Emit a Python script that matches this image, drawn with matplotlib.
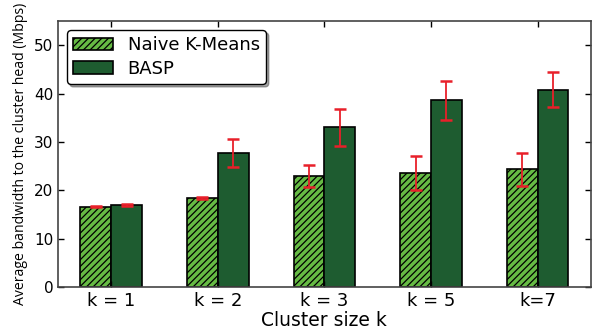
import numpy as np
import matplotlib
matplotlib.use('Agg')
import matplotlib.pyplot as plt

plt.rcParams['hatch.linewidth'] = 0.9

clusters = ['k = 1', 'k = 2', 'k = 3', 'k = 5', 'k=7']
naive = [16.6, 18.4, 23.0, 23.5, 24.3]
naive_err = [0.15, 0.15, 2.25, 3.5, 3.5]
basp = [17.0, 27.7, 33.0, 38.6, 40.8]
basp_err = [0.15, 2.8, 3.8, 4.0, 3.6]

x = np.arange(len(clusters))
w = 0.29

fig = plt.figure(figsize=(5.98, 3.33), dpi=100)
ax = fig.add_axes([0.097, 0.138, 0.891, 0.799])

ax.bar(x - w/2, naive, w, color='#66bb44', edgecolor='black', hatch='/////',
       linewidth=1.2, label='Naive K-Means',
       yerr=naive_err, error_kw=dict(ecolor='#e8202a', elinewidth=1.3, capsize=4, capthick=1.8))
ax.bar(x + w/2, basp, w, color='#1e5c30', edgecolor='black',
       linewidth=1.2, label='BASP',
       yerr=basp_err, error_kw=dict(ecolor='#e8202a', elinewidth=1.3, capsize=4, capthick=1.8))

ax.set_xlim(-0.5, 4.5)
ax.set_ylim(0, 55)
ax.set_yticks([0, 10, 20, 30, 40, 50])
ax.set_xticks(x)
ax.set_xticklabels(clusters, fontsize=13)
ax.tick_params(axis='y', labelsize=11)
ax.tick_params(direction='in', top=True, right=True, length=4, width=1)
for s in ax.spines.values():
    s.set_color('#444444')
    s.set_linewidth(1.2)

ax.set_xlabel('Cluster size k', fontsize=13.5, labelpad=1)
ax.set_ylabel('Average bandwidth to the cluster head (Mbps)', fontsize=10.1,
              family='Open Sans', labelpad=4)

leg = ax.legend(loc='upper left', fontsize=13, shadow=True, fancybox=True,
                borderpad=0.35, handlelength=2.2, labelspacing=0.3, framealpha=1)
leg.get_frame().set_edgecolor('black')

fig.savefig('out.png', dpi=100)
